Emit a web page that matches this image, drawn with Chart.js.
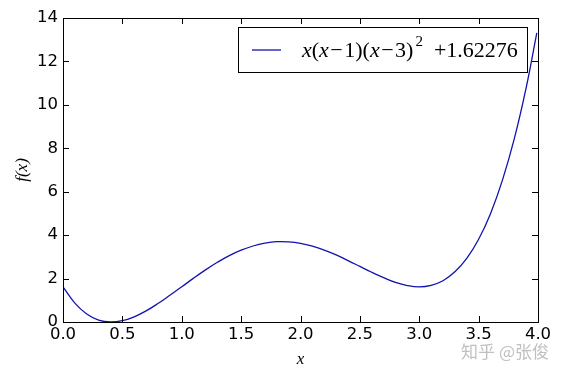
<!DOCTYPE html>
<html>
<head>
<meta charset="utf-8">
<script src="https://cdn.jsdelivr.net/npm/chart.js@4.4.0/dist/chart.umd.min.js"></script>
<style>
  html, body { margin: 0; padding: 0; background: #fff; }
  #wrap { width: 563px; height: 377px; }
</style>
</head>
<body>
<div id="wrap"><canvas id="graf"></canvas></div>
<script>
// valores
var xs = [0.0, 0.1, 0.2, 0.3, 0.4, 0.5, 0.6, 0.7, 0.8, 0.9,
          1.0, 1.1, 1.2, 1.3, 1.4, 1.5, 1.6, 1.7, 1.8, 1.9,
          2.0, 2.1, 2.2, 2.3, 2.4, 2.5, 2.6, 2.7, 2.8, 2.9,
          3.0, 3.1, 3.2, 3.3, 3.4, 3.5, 3.6, 3.7, 3.8, 3.9, 3.99]
var ys = [1.62, 0.87, 0.37, 0.09, 0.00, 0.06, 0.24, 0.51, 0.85, 1.23,
          1.62, 2.02, 2.40, 2.75, 3.06, 3.31, 3.50, 3.63, 3.70, 3.69,
          3.62, 3.49, 3.31, 3.09, 2.83, 2.56, 2.29, 2.04, 1.82, 1.68,
          1.62, 1.69, 1.90, 2.31, 2.93, 3.81, 4.99, 6.52, 8.43, 10.78, 13.32]
var xTicks = [0, 0.5, 1, 1.5, 2, 2.5, 3, 3.5, 4]
var yTicks = [0, 2, 4, 6, 8, 10, 12, 14]
var serieLabel = 'x(x−1)(x−3)^2 +1.62276'
var marca = '知乎 @张俊'

var puntos = []
for (var i = 0; i < xs.length; i++) {
  puntos.push({ x: xs[i], y: ys[i] })
}

var colorLinea = '#1212b0'
var fuenteNum = 'DejaVu Sans'
var fuenteMat = 'Liberation Serif'

// ticks hacia adentro y marco completo (estilo matplotlib clasico)
var marcoPlugin = {
  id: 'marco',
  afterDatasetsDraw: function (chart) {
    var ctx = chart.ctx
    var a = chart.chartArea
    var sx = chart.scales.x
    var sy = chart.scales.y
    var largo = 6
    ctx.save()
    ctx.strokeStyle = '#000'
    ctx.lineWidth = 1
    ctx.beginPath()
    xTicks.forEach(function (t) {
      var px = Math.round(sx.getPixelForValue(t)) + 0.5
      ctx.moveTo(px, a.bottom); ctx.lineTo(px, a.bottom - largo)
      ctx.moveTo(px, a.top); ctx.lineTo(px, a.top + largo)
    })
    yTicks.forEach(function (t) {
      var py = Math.round(sy.getPixelForValue(t)) + 0.5
      ctx.moveTo(a.left, py); ctx.lineTo(a.left + largo, py)
      ctx.moveTo(a.right, py); ctx.lineTo(a.right - largo, py)
    })
    ctx.stroke()
    ctx.strokeRect(Math.round(a.left) + 0.5, Math.round(a.top) + 0.5,
                   Math.round(a.right - a.left), Math.round(a.bottom - a.top))
    ctx.restore()
  }
}

// leyenda con texto matematico (cursiva + superindice)
var leyendaPlugin = {
  id: 'leyendaMat',
  afterDraw: function (chart) {
    var ctx = chart.ctx
    var a = chart.chartArea
    var x0 = a.right - 300, y0 = a.top + 9, w = 289, h = 45
    ctx.save()
    ctx.fillStyle = '#fff'
    ctx.fillRect(x0, y0, w, h)
    ctx.strokeStyle = '#000'
    ctx.lineWidth = 1
    ctx.strokeRect(Math.round(x0) + 0.5, Math.round(y0) + 0.5, w, h)
    var ds = chart.data.datasets[0]
    ctx.strokeStyle = ds.borderColor
    ctx.lineWidth = ds.borderWidth
    ctx.beginPath()
    ctx.moveTo(x0 + 14, y0 + 23)
    ctx.lineTo(x0 + 43, y0 + 23)
    ctx.stroke()

    var partes = [
      ['x', 'italic', 0], ['(', '', 0], ['x', 'italic', 0], ['−1)(', '', 0],
      ['x', 'italic', 0], ['−3)', '', 0], ['2', '', 1], ['  +1.62276', '', 0]
    ]
    var px = x0 + 64, base = y0 + 30
    ctx.fillStyle = '#000'
    ctx.textBaseline = 'alphabetic'
    partes.forEach(function (p) {
      var tam = p[2] ? 15 : 22
      ctx.font = (p[1] ? p[1] + ' ' : '') + tam + 'px "' + fuenteMat + '"'
      var yy = p[2] ? base - 11 : base
      if (p[2]) px += 2
      // un poco de aire alrededor del signo menos
      if (p[0].charAt(0) === '−') {
        px += 1.5
        ctx.fillText('−', px, yy)
        px += ctx.measureText('−').width + 1.5
        ctx.fillText(p[0].slice(1), px, yy)
        px += ctx.measureText(p[0].slice(1)).width
      } else {
        ctx.fillText(p[0], px, yy)
        px += ctx.measureText(p[0]).width
      }
    })

    // marca de agua
    ctx.font = '17px "Noto Sans CJK SC"'
    ctx.fillStyle = 'rgba(165,165,165,0.7)'
    ctx.textAlign = 'right'
    ctx.fillText(marca, 549, 358)
    ctx.restore()
  }
}

function crearGrafico() {
  var ctx = document.getElementById('graf').getContext('2d')
  var grafico = new Chart(ctx, {
    type: 'line',
    data: {
      datasets: [{
        label: serieLabel,
        data: puntos,
        borderColor: colorLinea,
        borderWidth: 1.3,
        pointRadius: 0,
        fill: false,
        tension: 0.4
      }]
    },
    options: {
      responsive: true,
      maintainAspectRatio: false,
      animation: false,
      layout: { padding: { top: 18, right: 25, left: 0, bottom: 0 } },
      plugins: {
        legend: { display: false },
        tooltip: { enabled: false }
      },
      scales: {
        x: {
          type: 'linear',
          min: 0, max: 4,
          afterBuildTicks: function (s) { s.ticks = xTicks.map(function (v) { return { value: v } }) },
          afterFit: function (s) { s.height = 55 },
          grid: { display: false, drawTicks: false },
          border: { display: false },
          ticks: {
            padding: 3,
            color: '#000',
            maxRotation: 0,
            font: { family: fuenteNum, size: 16.5 },
            callback: function (v) { return Number(v).toFixed(1) }
          },
          title: {
            display: true,
            text: 'x',
            color: '#000',
            padding: { top: 4, bottom: 7 },
            font: { family: fuenteMat, style: 'italic', size: 17 }
          }
        },
        y: {
          min: 0, max: 14,
          afterBuildTicks: function (s) { s.ticks = yTicks.map(function (v) { return { value: v } }) },
          afterFit: function (s) { s.width = 63 },
          grid: { display: false, drawTicks: false },
          border: { display: false },
          ticks: {
            padding: 5,
            color: '#000',
            font: { family: fuenteNum, size: 16.5 }
          },
          title: {
            display: true,
            text: 'f(x)',
            color: '#000',
            padding: { top: 12, bottom: 0 },
            font: { family: fuenteMat, style: 'italic', size: 17 }
          }
        }
      }
    },
    plugins: [marcoPlugin, leyendaPlugin]
  })
  grafico.render()
}

crearGrafico()
</script>
</body>
</html>
